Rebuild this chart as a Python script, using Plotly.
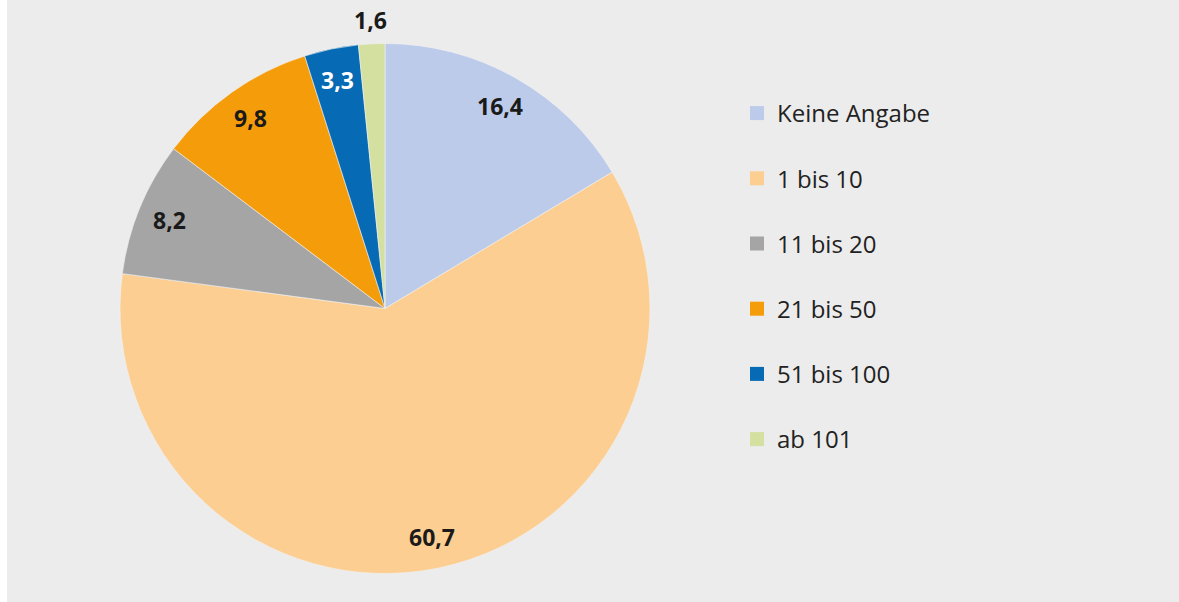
import math
import plotly.graph_objects as go

labels = ["Keine Angabe", "1 bis 10", "11 bis 20", "21 bis 50", "51 bis 100", "ab 101"]
values = [16.4, 60.7, 8.2, 9.8, 3.3, 1.6]
colors = ["#bccbea", "#fcce92", "#a5a5a5", "#f59c0a", "#066ab4", "#d3e0a0"]
text_colors = ["#1a1a1a", "#1a1a1a", "#1a1a1a", "#1a1a1a", "#ffffff", "#1a1a1a"]
outside = [False, False, False, False, False, True]

W, H = 1179, 602
cx, cy, r = 385, 308.5, 265

fig = go.Figure()
fig.add_trace(go.Pie(
    labels=labels, values=values, sort=False, direction="clockwise", rotation=0,
    marker=dict(colors=colors, line=dict(color="#f2f2f2", width=0.6)),
    textinfo="none",
    domain=dict(x=[(cx - r) / W, (cx + r) / W], y=[(H - cy - r) / H, (H - cy + r) / H]),
    showlegend=False, hoverinfo="label+value",
))

# value labels placed at each slice's mid-angle (computed from the data)
total = sum(values)
cum = 0.0
annotations = []
for v, tc, out in zip(values, text_colors, outside):
    mid = (cum + v / 2) / total * 2 * math.pi
    cum += v
    rf = 1.09 if out else 0.88
    px = cx + rf * r * math.sin(mid)
    py = cy - rf * r * math.cos(mid)
    annotations.append(dict(
        x=px / W, y=1 - py / H, xref="paper", yref="paper", showarrow=False,
        text="<b>" + f"{v:.1f}".replace(".", ",") + "</b>",
        font=dict(family="Open Sans", size=23, color=tc),
        xanchor="center", yanchor="middle",
    ))

for i, (lab, col) in enumerate(zip(labels, colors)):
    fig.add_trace(go.Scatter(
        x=[None], y=[None], mode="markers", name=lab, legendgroup=f"g{i}",
        marker=dict(symbol="square", size=14, color=col, line=dict(width=0)),
    ))

fig.update_layout(
    width=W, height=H, margin=dict(l=0, r=0, t=0, b=0),
    paper_bgcolor="#ececec", plot_bgcolor="#ececec",
    font=dict(family="Open Sans", color="#222222"),
    xaxis=dict(visible=False), yaxis=dict(visible=False),
    legend=dict(x=737 / W, y=1 - 91 / H, xanchor="left", yanchor="top",
                font=dict(size=24, color="#222222"), tracegroupgap=31,
                bgcolor="rgba(0,0,0,0)", itemclick=False),
    annotations=annotations,
    shapes=[dict(type="rect", xref="paper", yref="paper", x0=0, x1=7 / W, y0=0, y1=1,
                 fillcolor="white", line=dict(width=0), layer="above")],
)
fig.write_html(
    "out.html",
    config={"displayModeBar": False},
    post_script="document.body.style.margin='0';document.body.style.overflow='hidden';"
                "document.body.style.background='#ececec';",
)
